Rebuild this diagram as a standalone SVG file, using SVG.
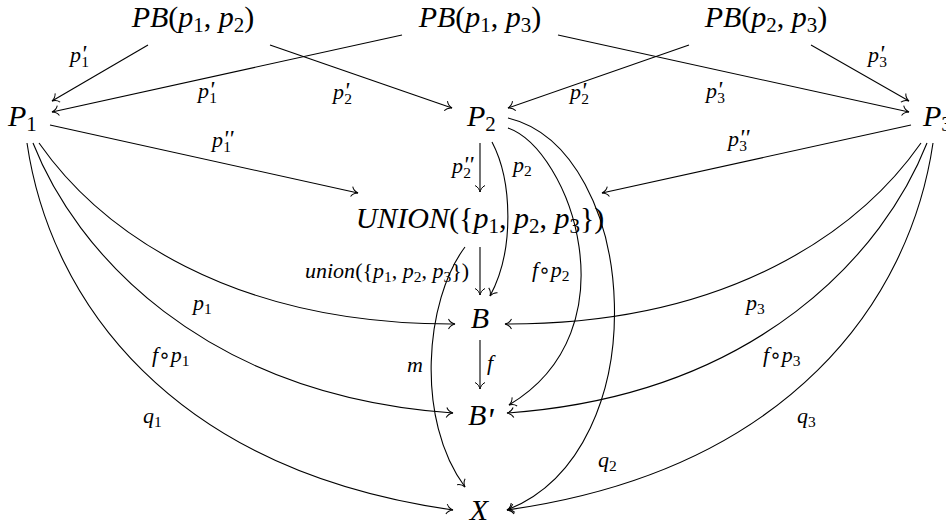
<svg xmlns="http://www.w3.org/2000/svg" width="946" height="523" viewBox="0 0 946 523">
<style>
text{font-family:"Liberation Serif","Times New Roman","DejaVu Serif",serif;fill:#000}
.n{font-size:30px}
.s{font-size:21px}
.i{font-style:italic}
.l{font-size:22px}
.ls{font-size:15.5px}
.pr{font-style:italic;font-size:24px}
.pb{font-style:italic;font-size:34px}
.c{font-family:"DejaVu Sans",sans-serif;font-size:20px}
.e{fill:none;stroke:#000;stroke-width:1.1;marker-end:url(#ar)}
</style>
<defs>
<marker id="ar" viewBox="-8 -6 10 12" refX="0" refY="0" markerWidth="10" markerHeight="12" markerUnits="userSpaceOnUse" orient="auto">
<path d="M-6.5,-5 C-5,-1.8 -1.8,-0.4 0,0 C-1.8,0.4 -5,1.8 -6.5,5" fill="none" stroke="#000" stroke-width="1"/>
</marker>
</defs>
<g id="connectors">
<path class="e" d="M148,45 L52,101"/>
<path class="e" d="M402,35 L52,112"/>
<path class="e" d="M270,45 L452,108"/>
<path class="e" d="M558,35 L909,112"/>
<path class="e" d="M689,45 L508,108"/>
<path class="e" d="M811,45 L909,101"/>
<path class="e" d="M50,125 L358,193"/>
<path class="e" d="M911,125 L602,193"/>
<path class="e" d="M480,143 L480,192"/>
<path class="e" d="M480,247 L480,295"/>
<path class="e" d="M480,340 L480,389"/>
<path class="e" d="M492,142 C512,180 515,250 490,296"/>
<path class="e" d="M508,128 C570,150 635,330 509,405"/>
<path class="e" d="M508,118 C640,150 660,450 507,510"/>
<path class="e" d="M39,143 C100,230 230,325 455,324"/>
<path class="e" d="M33,143 C75,250 200,395 453,413"/>
<path class="e" d="M27,143 C50,300 170,470 453,510"/>
<path class="e" d="M921,143 C860,230 730,325 505,324"/>
<path class="e" d="M927,143 C885,250 760,395 507,413"/>
<path class="e" d="M933,143 C910,300 790,470 507,510"/>
<path class="e" d="M465,247 C425,300 415,420 465,487"/>
</g>
<g id="labels">
<text class="l" x="70" y="62"><tspan class="i">p</tspan><tspan class="pr" dy="-1">'</tspan><tspan class="ls" dx="-5" dy="6">1</tspan></text>
<text class="l" x="198" y="98"><tspan class="i">p</tspan><tspan class="pr" dy="-1">'</tspan><tspan class="ls" dx="-5" dy="6">1</tspan></text>
<text class="l" x="212" y="147"><tspan class="i">p</tspan><tspan class="pr" dy="-1">''</tspan><tspan class="ls" dx="-10" dy="6">1</tspan></text>
<text class="l" x="333" y="99"><tspan class="i">p</tspan><tspan class="pr" dy="-1">'</tspan><tspan class="ls" dx="-5" dy="6">2</tspan></text>
<text class="l" x="570" y="99"><tspan class="i">p</tspan><tspan class="pr" dy="-1">'</tspan><tspan class="ls" dx="-5" dy="6">2</tspan></text>
<text class="l" x="706" y="98"><tspan class="i">p</tspan><tspan class="pr" dy="-1">'</tspan><tspan class="ls" dx="-5" dy="6">3</tspan></text>
<text class="l" x="868" y="62"><tspan class="i">p</tspan><tspan class="pr" dy="-1">'</tspan><tspan class="ls" dx="-5" dy="6">3</tspan></text>
<text class="l" x="728" y="146"><tspan class="i">p</tspan><tspan class="pr" dy="-1">''</tspan><tspan class="ls" dx="-10" dy="6">3</tspan></text>
<text class="l" x="452" y="173"><tspan class="i">p</tspan><tspan class="pr" dy="-1">''</tspan><tspan class="ls" dx="-10" dy="6">2</tspan></text>
<text class="l" x="513" y="172"><tspan class="i">p</tspan><tspan class="ls" dy="4">2</tspan></text>
<text class="l" x="305" y="278"><tspan class="i">union</tspan>({<tspan class="i">p</tspan><tspan class="ls" dy="4">1</tspan><tspan dy="-4">, </tspan><tspan class="i">p</tspan><tspan class="ls" dy="4">2</tspan><tspan dy="-4">, </tspan><tspan class="i">p</tspan><tspan class="ls" dy="4">3</tspan><tspan dy="-4">})</tspan></text>
<text class="l" x="532" y="277"><tspan class="i">f</tspan><tspan class="c">∘</tspan><tspan class="i">p</tspan><tspan class="ls" dy="4">2</tspan></text>
<text class="l i" x="487" y="370">f</text>
<text class="l i" x="407" y="372">m</text>
<text class="l" x="193" y="310"><tspan class="i">p</tspan><tspan class="ls" dy="4">1</tspan></text>
<text class="l" x="152" y="362"><tspan class="i">f</tspan><tspan class="c">∘</tspan><tspan class="i">p</tspan><tspan class="ls" dy="4">1</tspan></text>
<text class="l" x="143" y="423"><tspan class="i">q</tspan><tspan class="ls" dy="4">1</tspan></text>
<text class="l" x="746" y="310"><tspan class="i">p</tspan><tspan class="ls" dy="4">3</tspan></text>
<text class="l" x="763" y="362"><tspan class="i">f</tspan><tspan class="c">∘</tspan><tspan class="i">p</tspan><tspan class="ls" dy="4">3</tspan></text>
<text class="l" x="797" y="423"><tspan class="i">q</tspan><tspan class="ls" dy="4">3</tspan></text>
<text class="l" x="598" y="467"><tspan class="i">q</tspan><tspan class="ls" dy="4">2</tspan></text>
</g>
<g id="PB12"><text class="n" x="193" y="27" text-anchor="middle"><tspan class="i">PB</tspan>(<tspan class="i">p</tspan><tspan class="s" dy="5">1</tspan><tspan dy="-5">, </tspan><tspan class="i">p</tspan><tspan class="s" dy="5">2</tspan><tspan dy="-5">)</tspan></text></g>
<g id="PB13"><text class="n" x="480" y="27" text-anchor="middle"><tspan class="i">PB</tspan>(<tspan class="i">p</tspan><tspan class="s" dy="5">1</tspan><tspan dy="-5">, </tspan><tspan class="i">p</tspan><tspan class="s" dy="5">3</tspan><tspan dy="-5">)</tspan></text></g>
<g id="PB23"><text class="n" x="766" y="27" text-anchor="middle"><tspan class="i">PB</tspan>(<tspan class="i">p</tspan><tspan class="s" dy="5">2</tspan><tspan dy="-5">, </tspan><tspan class="i">p</tspan><tspan class="s" dy="5">3</tspan><tspan dy="-5">)</tspan></text></g>
<g id="P1"><text class="n" x="8" y="126"><tspan class="i">P</tspan><tspan class="s" dy="5">1</tspan></text></g>
<g id="P2"><text class="n" x="467" y="126"><tspan class="i">P</tspan><tspan class="s" dy="5">2</tspan></text></g>
<g id="P3"><text class="n" x="923" y="126"><tspan class="i">P</tspan><tspan class="s" dy="5">3</tspan></text></g>
<g id="UNION"><text class="n" x="480" y="228" text-anchor="middle"><tspan class="i">UNION</tspan>({<tspan class="i">p</tspan><tspan class="s" dy="5">1</tspan><tspan dy="-5">, </tspan><tspan class="i">p</tspan><tspan class="s" dy="5">2</tspan><tspan dy="-5">, </tspan><tspan class="i">p</tspan><tspan class="s" dy="5">3</tspan><tspan dy="-5">})</tspan></text></g>
<g id="B"><text class="n i" x="480" y="328" text-anchor="middle">B</text></g>
<g id="Bp"><text class="n" x="468" y="425"><tspan class="i">B</tspan><tspan class="pb" dy="6">'</tspan></text></g>
<g id="X"><text class="n i" x="479" y="520" text-anchor="middle">X</text></g>
</svg>
